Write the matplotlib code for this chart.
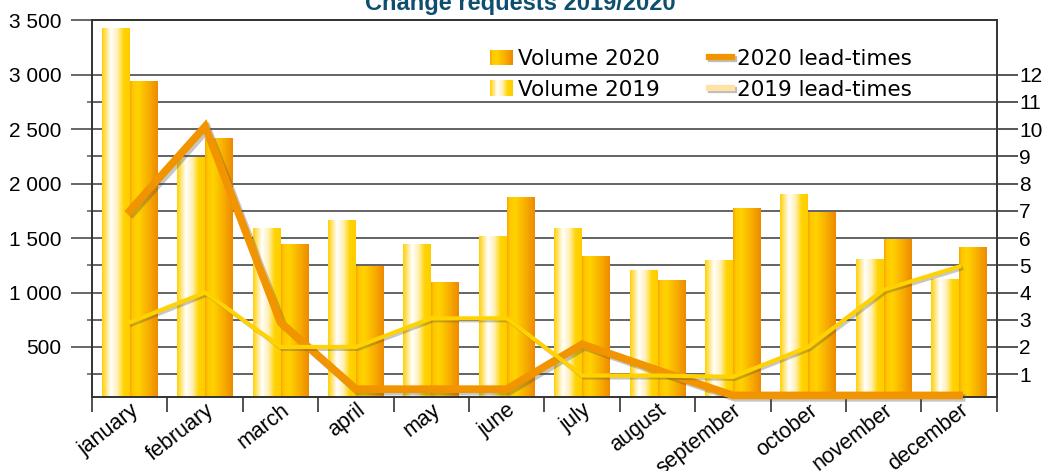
import matplotlib

matplotlib.use("Agg")
import matplotlib.pyplot as plt
import numpy as np
from matplotlib import patheffects as pe
from matplotlib.colors import LinearSegmentedColormap
from matplotlib.legend_handler import HandlerBase
from matplotlib.lines import Line2D
from matplotlib.patches import Rectangle
from matplotlib.ticker import FixedLocator, FuncFormatter
from matplotlib.transforms import ScaledTranslation, blended_transform_factory


MONTHS = ["january", "february", "march", "april", "may", "june", "july",
          "august", "september", "october", "november", "december"]
VOLUME_2019 = [3420, 2240, 1590, 1660, 1440, 1510, 1590, 1200, 1290, 1900, 1305, 1115]
VOLUME_2020 = [2940, 2410, 1440, 1240, 1090, 1870, 1330, 1110, 1775, 1730, 1490, 1415]
LEAD_2019 = [2.9, 4.0, 2.0, 2.0, 3.05, 3.05, 0.95, 0.95, 0.9, 2.0, 4.1, 4.95]
LEAD_2020 = [7.0, 10.1, 2.9, 0.45, 0.45, 0.45, 2.1, 1.15, 0.22, 0.22, 0.22, 0.22]
LEFT_TICKS = [500, 1000, 1500, 2000, 2500, 3000, 3500]
LEFT_MINOR = [250, 750, 1250, 1750, 2250, 2750]
RIGHT_TICKS = [1, 2, 3, 4, 5, 6, 7, 8, 9, 10, 11, 12]
TITLE = "Change requests 2019/2020"

CMAP_2019 = LinearSegmentedColormap.from_list("v2019", [
    (0.0, "#FFD000"), (0.12, "#FFE060"), (0.32, "#FFFFFF"),
    (0.55, "#FFF0B8"), (0.78, "#FFD400"), (1.0, "#FFCC00")])
CMAP_2020 = LinearSegmentedColormap.from_list("v2020", [
    (0.0, "#F5A800"), (0.1, "#FFC800"), (0.3, "#FFD200"),
    (0.7, "#F7AA00"), (1.0, "#EE8A00")])
ORANGE = "#F29400"
YELLOW = "#FFD200"
TICK_FONT = ["Liberation Sans", "DejaVu Sans"]


class GradientHandler(HandlerBase):
    def __init__(self, cmap, n=30):
        super().__init__()
        self.cmap = cmap
        self.n = n

    def create_artists(self, legend, orig_handle, xdescent, ydescent,
                       width, height, fontsize, trans):
        step = width / self.n
        return [
            Rectangle((-xdescent + i * step, -ydescent), step * 1.05, height,
                      facecolor=self.cmap((i + 0.5) / self.n),
                      edgecolor="none", transform=trans)
            for i in range(self.n)
        ]


def gradient_bars(ax, bars, cmap):
    grad = np.linspace(0, 1, 256).reshape(1, -1)
    for bar in bars:
        x, y = bar.get_xy()
        w, h = bar.get_width(), bar.get_height()
        bar.set_visible(False)
        ax.imshow(grad, cmap=cmap, extent=[x, x + w, y, y + h],
                  aspect="auto", zorder=2, interpolation="bilinear")


def shadow(offset=1.5, alpha=0.3):
    return [pe.SimpleLineShadow(offset=(offset, -offset),
                                shadow_color="#444444", alpha=alpha),
            pe.Normal()]


fig = plt.figure(figsize=(10.46, 4.71), dpi=100)
ax = fig.add_axes([0.088, 0.157, 0.865, 0.8])
ax2 = ax.twinx()

x = np.arange(len(MONTHS))
width = 0.37
bars19 = ax.bar(x - width / 2, VOLUME_2019, width)
bars20 = ax.bar(x + width / 2, VOLUME_2020, width)
gradient_bars(ax, bars19, CMAP_2019)
gradient_bars(ax, bars20, CMAP_2020)

ax.set_xlim(-0.5, len(MONTHS) - 0.5)
ax.set_ylim(40, 3500)
ax2.set_ylim(40 / 250, 3500 / 250)

# left axis
ax.yaxis.set_major_locator(FixedLocator(LEFT_TICKS))
ax.yaxis.set_minor_locator(FixedLocator(LEFT_MINOR))
ax.yaxis.set_major_formatter(
    FuncFormatter(lambda v, _: f"{v:,.0f}".replace(",", " ")))
ax.tick_params(axis="y", which="major", direction="out", length=15, width=1.4,
               color="#666666", pad=7, labelsize=15)
ax.tick_params(axis="y", which="minor", direction="inout", length=7, width=1.2,
               color="#666666")
ax.yaxis.grid(True, which="both", color="#636363", linewidth=1.4)
ax.set_axisbelow(True)

# x axis: ticks on the boundaries, month names as rotated texts
ax.set_xticks(np.arange(len(MONTHS) + 1) - 0.5)
ax.set_xticklabels([])
ax.tick_params(axis="x", which="major", direction="out", length=11, width=1.2,
               color="#333333")
label_trans = blended_transform_factory(ax.transData, ax.transAxes) + \
    ScaledTranslation(0, -2 / 72, fig.dpi_scale_trans)
for xi, month in zip(x, MONTHS):
    ax.text(xi, 0, month, transform=label_trans, rotation=38,
            rotation_mode="anchor", ha="right", va="top", fontsize=15.5,
            family=TICK_FONT)

# right axis
ax2.set_yticks(RIGHT_TICKS)
ax2.tick_params(axis="y", direction="out", length=15, width=1.4,
                color="#555555", pad=1, labelsize=15)

for a in (ax, ax2):
    for spine in a.spines.values():
        spine.set_color("#333333")
        spine.set_linewidth(1.2)
    for lab in a.get_yticklabels():
        lab.set_family(TICK_FONT)

# lead-time lines
ax2.plot(x, LEAD_2020, color=ORANGE, linewidth=5.5, clip_on=False,
         solid_joinstyle="miter", path_effects=shadow(1.8, 0.3), zorder=3)
ax2.plot(x, LEAD_2019, color=YELLOW, linewidth=3, clip_on=False,
         solid_joinstyle="miter", path_effects=shadow(1.4, 0.3), zorder=4)

# legend
vol20 = Rectangle((0, 0), 1, 1)
vol19 = Rectangle((0, 0), 1, 1)
lead20 = Line2D([], [], color=ORANGE, linewidth=4.5, path_effects=shadow(1.5, 0.35))
lead19 = Line2D([], [], color="#FFE2A6", linewidth=4.5, path_effects=shadow(1.5, 0.35))
fig.legend([vol20, vol19, lead20, lead19],
           ["Volume 2020", "Volume 2019", "2020 lead-times", "2019 lead-times"],
           handler_map={vol20: GradientHandler(CMAP_2020),
                        vol19: GradientHandler(CMAP_2019)},
           ncol=2, loc="upper left", bbox_to_anchor=(490 / 1046, 1 - 49 / 471),
           frameon=False, borderpad=0, borderaxespad=0, fontsize=15.5,
           handlelength=1.05, handleheight=0.75, handletextpad=0.25,
           columnspacing=2.3, labelspacing=0.5)

fig.text(0.497, 1 - 10 / 471, TITLE, ha="center", va="baseline",
         fontsize=17, fontweight="bold", color="#0E4F6F",
         family=["Liberation Sans", "DejaVu Sans"])

fig.savefig("out.png", dpi=100)
